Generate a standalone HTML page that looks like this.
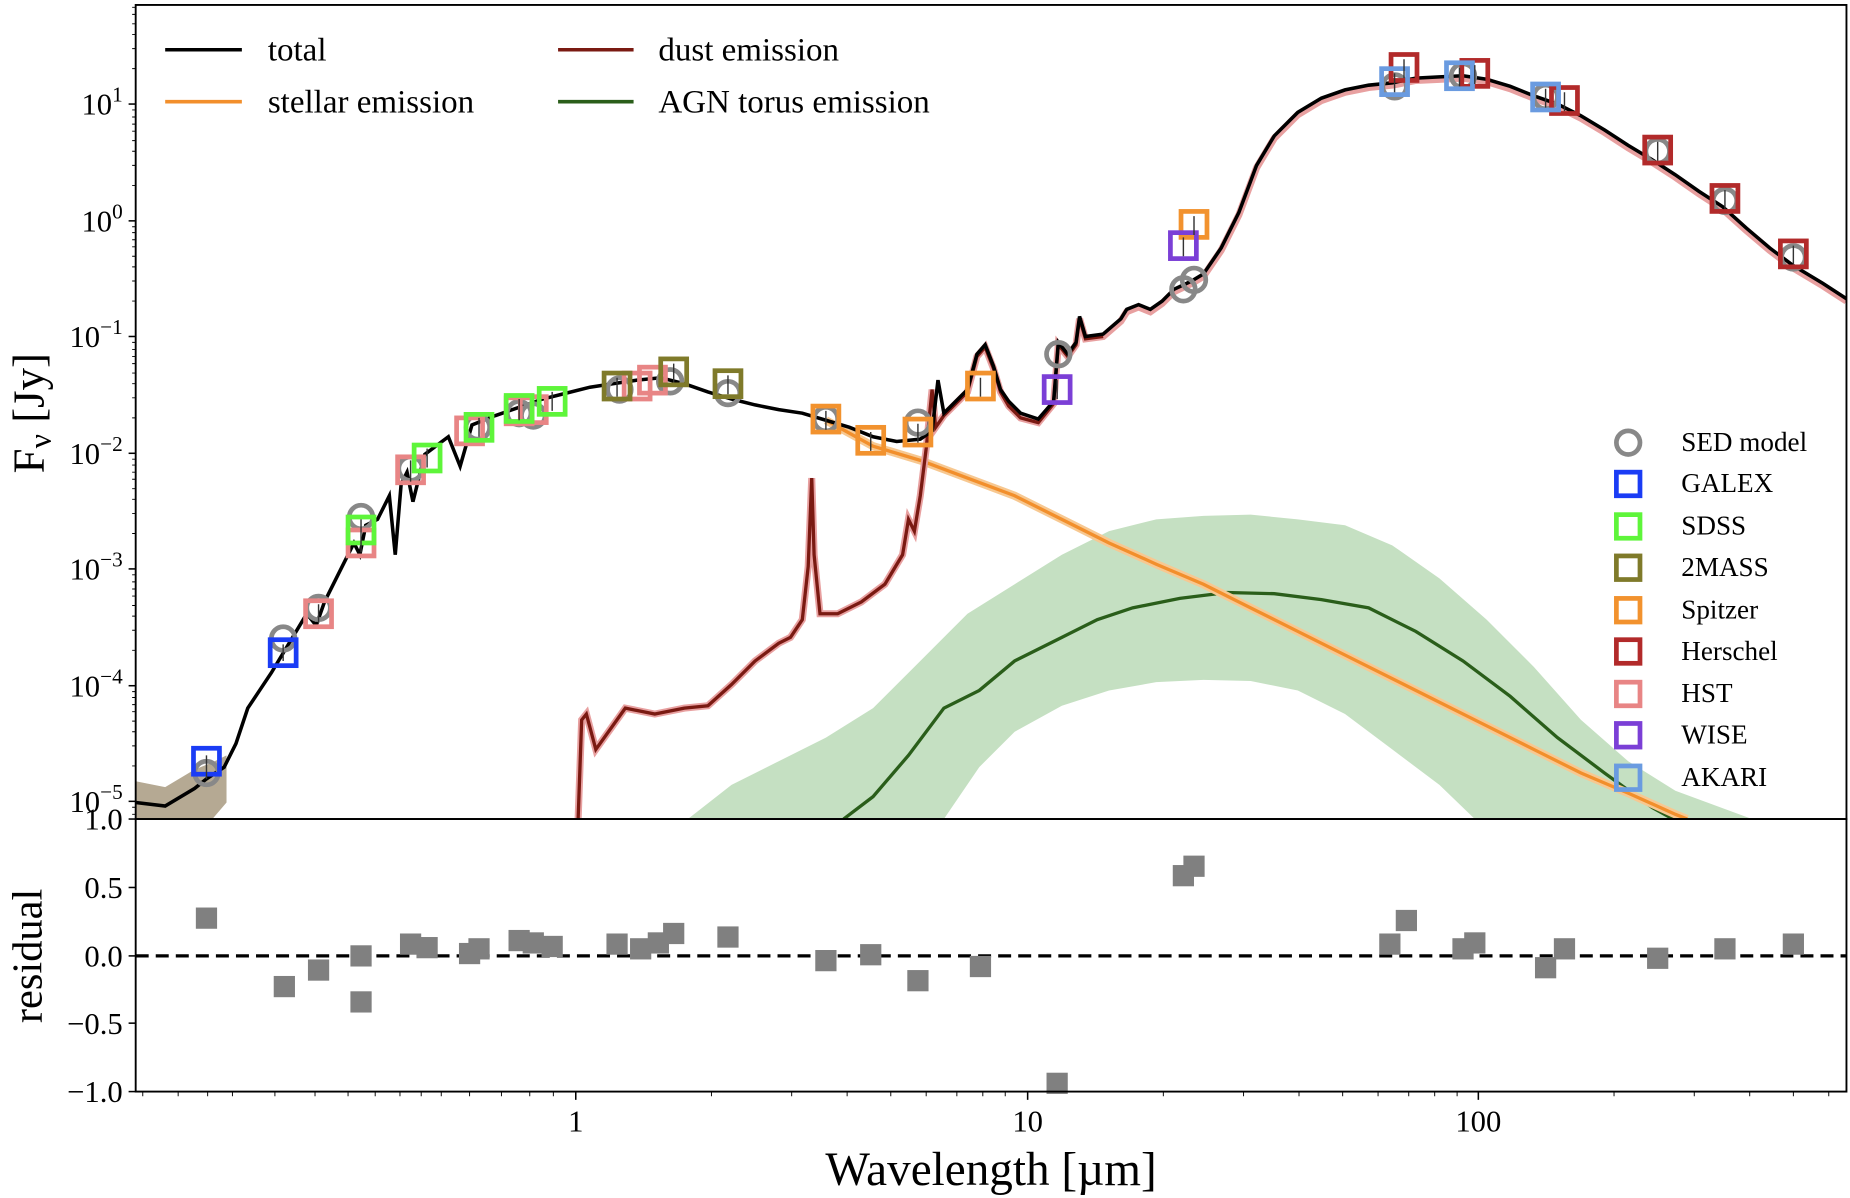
<!DOCTYPE html>
<html><head><meta charset="utf-8"><style>
html,body{margin:0;padding:0;background:#fff;}
svg{display:block;font-family:"Liberation Serif",serif;}
</style></head><body>
<svg width="1850" height="1198" viewBox="0 0 1568 1015" xmlns="http://www.w3.org/2000/svg">
<rect width="1568" height="1015" fill="#fff"/>
<defs><clipPath id="cm"><rect x="115" y="4" width="1450" height="690"/></clipPath></defs>
<g clip-path="url(#cm)">
<path d="M583,694 L620,665 660,645 700,625 740,600 780,560 820,520 860,495 900,470 940,450 980,440 1020,437 1060,436 1100,440 1140,445 1180,462 1220,490 1260,525 1300,565 1340,610 1380,645 1420,670 1485,694 L1250,694 1220,665 1180,635 1140,605 1100,585 1060,577 1020,576 980,578 940,585 900,598 860,620 830,650 800,694 Z" fill="#c5e0c2"/>
<path d="M115,662 L140,667 165,652 180,646 192,640 192,680 180,694 115,694 Z" fill="#b5a993"/>
<polyline fill="none" stroke="#2a5e1a" stroke-width="2.8" points="715,694 740,675 770,640 800,600 830,585 860,560 900,540 930,525 960,515 1000,507 1040,502 1080,503 1120,508 1160,515 1200,535 1240,560 1280,590 1320,625 1360,655 1400,684 1418,694"/>
<polyline fill="none" stroke="#f7c891" stroke-width="7" points="700,356 740,378 780,390 820,405 860,420 900,440 940,460 980,478 1020,495 1060,515 1100,535 1140,555 1180,575 1220,595 1260,615 1300,635 1340,655 1380,672 1420,690 1430,694"/>
<polyline fill="none" stroke="#f28f2c" stroke-width="2.8" points="700,356 740,378 780,390 820,405 860,420 900,440 940,460 980,478 1020,495 1060,515 1100,535 1140,555 1180,575 1220,595 1260,615 1300,635 1340,655 1380,672 1420,690 1430,694"/>
<polyline fill="none" stroke="#e8a0a0" stroke-width="6" points="490,694 493,610 497,605 505,635 530,600 555,605 580,600 600,598 620,580 640,560 660,545 670,540 680,525 685,480 688,405 690,470 695,520 710,520 730,510 750,495 765,470 770,440 775,450 780,420 785,380 790,330 793,362 800,352 810,342 820,332 828,302 835,294 842,312 848,332 855,344 865,354 880,358 893,342 897,292 905,302 912,292 915,270 920,287 935,285 950,272 955,264 965,260 975,264 985,257 995,247 1010,240 1020,234 1035,212 1050,182 1065,142 1080,117 1100,97 1120,85 1140,78 1160,74 1180,72 1200,68 1220,67 1240,66 1260,69 1280,75 1300,83 1320,90 1340,100 1360,112 1380,125 1400,137 1420,150 1440,164 1460,177 1480,195 1500,212 1520,227 1545,242 1565,255"/>
<polyline fill="none" stroke="#7a1a12" stroke-width="2.8" points="490,694 493,610 497,605 505,635 530,600 555,605 580,600 600,598 620,580 640,560 660,545 670,540 680,525 685,480 688,405 690,470 695,520 710,520 730,510 750,495 765,470 770,440 775,450 780,420 785,380 790,330 793,362 800,352 810,342 820,332 828,302 835,294 842,312 848,332 855,344 865,354 880,358 893,342 897,292 905,302 912,292 915,270 920,287 935,285"/>
<polyline fill="none" stroke="#000" stroke-width="3" points="115,680 140,683 165,668 175,660 190,650 200,630 210,600 220,585 230,570 245,545 260,520 268,530 275,510 285,490 300,460 305,470 310,445 320,440 330,420 335,470 340,410 345,400 350,425 360,385 380,370 390,395 400,360 420,352 440,345 460,338 480,333 500,328 520,325 540,322 560,320 580,325 600,332 620,338 640,343 660,347 680,350 700,356 720,362 740,370 760,374 780,372 790,365 795,322 800,350 810,340 820,330 828,300 835,292 842,310 848,330 855,340 865,350 880,355 893,340 897,290 905,300 912,290 915,268 920,285 935,283 950,270 955,262 965,258 975,262 985,255 995,245 1010,238 1020,232 1035,210 1050,180 1065,140 1080,115 1100,95 1120,83 1140,76 1160,72 1180,70 1200,66 1220,65 1240,64 1260,67 1280,73 1300,81 1320,88 1340,98 1360,110 1380,123 1400,135 1420,148 1440,162 1460,175 1480,193 1500,210 1520,225 1545,240 1565,253"/>
<g fill="none" stroke="#888" stroke-width="4">
<circle cx="175" cy="655" r="10"/><circle cx="240" cy="541" r="10"/><circle cx="270" cy="515" r="10"/><circle cx="306" cy="438" r="10"/><circle cx="348" cy="397" r="10"/><circle cx="405" cy="362" r="10"/><circle cx="440" cy="350" r="10"/><circle cx="452" cy="352" r="10"/><circle cx="525" cy="330" r="10"/><circle cx="568" cy="323" r="10"/><circle cx="617" cy="333" r="10"/><circle cx="700" cy="355" r="10"/><circle cx="778" cy="358" r="10"/><circle cx="897" cy="300" r="10"/><circle cx="1003" cy="245" r="10"/><circle cx="1012" cy="237" r="10"/><circle cx="1182" cy="73" r="10"/><circle cx="1240" cy="64" r="10"/><circle cx="1310" cy="82" r="10"/><circle cx="1405" cy="128" r="10"/><circle cx="1462" cy="170" r="10"/><circle cx="1520" cy="218" r="10"/>
</g>
<g fill="none" stroke-width="4">
<g stroke="#e88585"><rect x="259" y="509" width="22" height="22"/><rect x="295" y="449" width="22" height="22"/><rect x="337" y="387" width="22" height="22"/><rect x="387" y="354" width="22" height="22"/><rect x="429" y="337" width="22" height="22"/><rect x="441" y="336" width="22" height="22"/><rect x="529" y="316" width="22" height="22"/><rect x="542" y="311" width="22" height="22"/></g>
<g stroke="#1a3cf5"><rect x="164" y="634" width="22" height="22"/><rect x="229" y="542" width="22" height="22"/></g>
<g stroke="#5ef53a"><rect x="295" y="438" width="22" height="22"/><rect x="351" y="377" width="22" height="22"/><rect x="395" y="351" width="22" height="22"/><rect x="429" y="335" width="22" height="22"/><rect x="457" y="329" width="22" height="22"/></g>
<g stroke="#7f7a2a"><rect x="512" y="316" width="22" height="22"/><rect x="560" y="304" width="22" height="22"/><rect x="606" y="314" width="22" height="22"/></g>
<g stroke="#f2922e"><rect x="689" y="344" width="22" height="22"/><rect x="727" y="362" width="22" height="22"/><rect x="767" y="355" width="22" height="22"/><rect x="820" y="316" width="22" height="22"/><rect x="1001" y="179" width="22" height="22"/></g>
<g stroke="#7b3fd6"><rect x="992" y="197" width="22" height="22"/><rect x="885" y="319" width="22" height="22"/></g>
<g stroke="#b22a2a"><rect x="1179" y="46" width="22" height="22"/><rect x="1239" y="51" width="22" height="22"/><rect x="1315" y="74" width="22" height="22"/><rect x="1394" y="116" width="22" height="22"/><rect x="1451" y="157" width="22" height="22"/><rect x="1509" y="204" width="22" height="22"/></g>
<g stroke="#6a9be0"><rect x="1171" y="58" width="22" height="22"/><rect x="1226" y="53" width="22" height="22"/><rect x="1299" y="71" width="22" height="22"/></g>
</g>
<g stroke="#333" stroke-width="1.2">
<path d="M175,640V660M240,546V560M270,512V528M306,440V468M348,390V408M362,380V396M406,354V370M440,338V356M468,332V348M523,320V336M571,308V324M617,318V334M700,348V364M738,366V382M778,359V375M831,320V336M1012,183V199M1003,201V217M896,322V338M1190,50V66M1250,55V71M1326,78V94M1405,120V136M1462,161V177M1520,208V224M1182,62V78M1237,57V73M1310,75V91"/>
</g>
</g>
<g font-size="28">
<line x1="140" y1="42" x2="205" y2="42" stroke="#000" stroke-width="3"/><text x="227" y="51">total</text>
<line x1="140" y1="86" x2="205" y2="86" stroke="#f28f2c" stroke-width="3"/><text x="227" y="95">stellar emission</text>
<line x1="473" y1="42" x2="537" y2="42" stroke="#7a1a12" stroke-width="3"/><text x="558" y="51">dust emission</text>
<line x1="473" y1="86" x2="537" y2="86" stroke="#2a5e1a" stroke-width="3"/><text x="558" y="95">AGN torus emission</text>
</g>
<g fill="none" stroke-width="4">
<circle cx="1380" cy="375" r="10" stroke="#888"/>
<rect x="1370" y="400" width="20" height="20" stroke="#1a3cf5"/>
<rect x="1370" y="436" width="20" height="20" stroke="#5ef53a"/>
<rect x="1370" y="471" width="20" height="20" stroke="#7f7a2a"/>
<rect x="1370" y="507" width="20" height="20" stroke="#f2922e"/>
<rect x="1370" y="542" width="20" height="20" stroke="#b22a2a"/>
<rect x="1370" y="578" width="20" height="20" stroke="#e88585"/>
<rect x="1370" y="613" width="20" height="20" stroke="#7b3fd6"/>
<rect x="1370" y="649" width="20" height="20" stroke="#6a9be0"/>
</g>
<g font-size="23" fill="#000">
<text x="1425" y="382">SED model</text><text x="1425" y="417">GALEX</text><text x="1425" y="453">SDSS</text><text x="1425" y="488">2MASS</text><text x="1425" y="524">Spitzer</text><text x="1425" y="559">Herschel</text><text x="1425" y="595">HST</text><text x="1425" y="630">WISE</text><text x="1425" y="666">AKARI</text>
</g>
<line x1="115" y1="810" x2="1565" y2="810" stroke="#000" stroke-width="2.8" stroke-dasharray="11,6"/>
<g fill="#808080">
<rect x="166" y="769" width="18" height="18"/><rect x="232" y="827" width="18" height="18"/><rect x="261" y="813" width="18" height="18"/><rect x="297" y="801" width="18" height="18"/><rect x="297" y="840" width="18" height="18"/><rect x="339" y="791" width="18" height="18"/><rect x="353" y="794" width="18" height="18"/><rect x="389" y="799" width="18" height="18"/><rect x="397" y="795" width="18" height="18"/><rect x="431" y="788" width="18" height="18"/><rect x="443" y="790" width="18" height="18"/><rect x="459" y="793" width="18" height="18"/><rect x="514" y="791" width="18" height="18"/><rect x="534" y="795" width="18" height="18"/><rect x="549" y="790" width="18" height="18"/><rect x="562" y="782" width="18" height="18"/><rect x="608" y="785" width="18" height="18"/><rect x="691" y="805" width="18" height="18"/><rect x="729" y="800" width="18" height="18"/><rect x="769" y="822" width="18" height="18"/><rect x="822" y="810" width="18" height="18"/><rect x="887" y="909" width="18" height="18"/><rect x="994" y="733" width="18" height="18"/><rect x="1003" y="725" width="18" height="18"/><rect x="1169" y="791" width="18" height="18"/><rect x="1183" y="771" width="18" height="18"/><rect x="1231" y="795" width="18" height="18"/><rect x="1241" y="790" width="18" height="18"/><rect x="1301" y="811" width="18" height="18"/><rect x="1317" y="795" width="18" height="18"/><rect x="1396" y="803" width="18" height="18"/><rect x="1453" y="795" width="18" height="18"/><rect x="1511" y="791" width="18" height="18"/>
</g>
<rect x="115" y="4" width="1450" height="690" fill="none" stroke="#000" stroke-width="1.6"/>
<rect x="115" y="694" width="1450" height="231" fill="none" stroke="#000" stroke-width="1.6"/>
<g stroke="#000" stroke-width="1.3">
<line x1="109" y1="88" x2="115" y2="88"/><line x1="109" y1="187" x2="115" y2="187"/><line x1="109" y1="285" x2="115" y2="285"/><line x1="109" y1="384" x2="115" y2="384"/><line x1="109" y1="482" x2="115" y2="482"/><line x1="109" y1="581" x2="115" y2="581"/><line x1="109" y1="679" x2="115" y2="679"/>
<line x1="109" y1="694" x2="115" y2="694"/><line x1="109" y1="752" x2="115" y2="752"/><line x1="109" y1="810" x2="115" y2="810"/><line x1="109" y1="867" x2="115" y2="867"/><line x1="109" y1="925" x2="115" y2="925"/>
<line x1="488" y1="925" x2="488" y2="932"/><line x1="871" y1="925" x2="871" y2="932"/><line x1="1253" y1="925" x2="1253" y2="932"/>
</g>
<g stroke="#000" stroke-width="0.8">
<path d="M112,58H115M112,41H115M112,29H115M112,20H115M112,12H115M112,6H115
M112,157H115M112,140H115M112,128H115M112,119H115M112,111H115M112,105H115M112,99H115M112,93H115
M112,255H115M112,238H115M112,226H115M112,217H115M112,209H115M112,203H115M112,197H115M112,192H115
M112,354H115M112,337H115M112,325H115M112,316H115M112,308H115M112,302H115M112,296H115M112,290H115
M112,452H115M112,435H115M112,423H115M112,414H115M112,406H115M112,400H115M112,394H115M112,389H115
M112,551H115M112,534H115M112,522H115M112,513H115M112,505H115M112,499H115M112,493H115M112,487H115
M112,649H115M112,632H115M112,620H115M112,611H115M112,603H115M112,597H115M112,591H115M112,586H115
M112,690H115M112,684H115"/>
<path d="M121,925V929M151,925V929M176,925V929M197,925V929M233,925V929M267,925V929M295,925V929M318,925V929M339,925V929M357,925V929M374,925V929M469,925V929M449,925V929M425,925V929M398,925V929
M603,925V929M671,925V929M718,925V929M755,925V929M785,925V929M811,925V929M833,925V929M852,925V929
M986,925V929M1054,925V929M1101,925V929M1138,925V929M1168,925V929M1194,925V929M1216,925V929M1235,925V929
M1368,925V929M1436,925V929M1483,925V929M1520,925V929M1550,925V929"/>
</g>
<g font-size="26" text-anchor="end">
<text x="104" y="97">10<tspan dy="-11" font-size="18">1</tspan></text>
<text x="104" y="196">10<tspan dy="-11" font-size="18">0</tspan></text>
<text x="104" y="294">10<tspan dy="-11" font-size="18">−1</tspan></text>
<text x="104" y="393">10<tspan dy="-11" font-size="18">−2</tspan></text>
<text x="104" y="491">10<tspan dy="-11" font-size="18">−3</tspan></text>
<text x="104" y="590">10<tspan dy="-11" font-size="18">−4</tspan></text>
<text x="104" y="688">10<tspan dy="-11" font-size="18">−5</tspan></text>
<text x="104" y="703">1.0</text>
<text x="104" y="761">0.5</text>
<text x="104" y="819">0.0</text>
<text x="104" y="876">−0.5</text>
<text x="104" y="934">−1.0</text>
</g>
<g font-size="26" text-anchor="middle">
<text x="488" y="959">1</text><text x="871" y="959">10</text><text x="1253" y="959">100</text>
</g>
<text x="840" y="1004" font-size="40" text-anchor="middle">Wavelength [µm]</text>
<text transform="translate(37,350) rotate(-90)" font-size="38" text-anchor="middle">F<tspan font-size="27" dy="6">ν</tspan><tspan dy="-6"> [Jy]</tspan></text>
<text transform="translate(35,810) rotate(-90)" font-size="36" text-anchor="middle">residual</text>
</svg>
</body></html>
